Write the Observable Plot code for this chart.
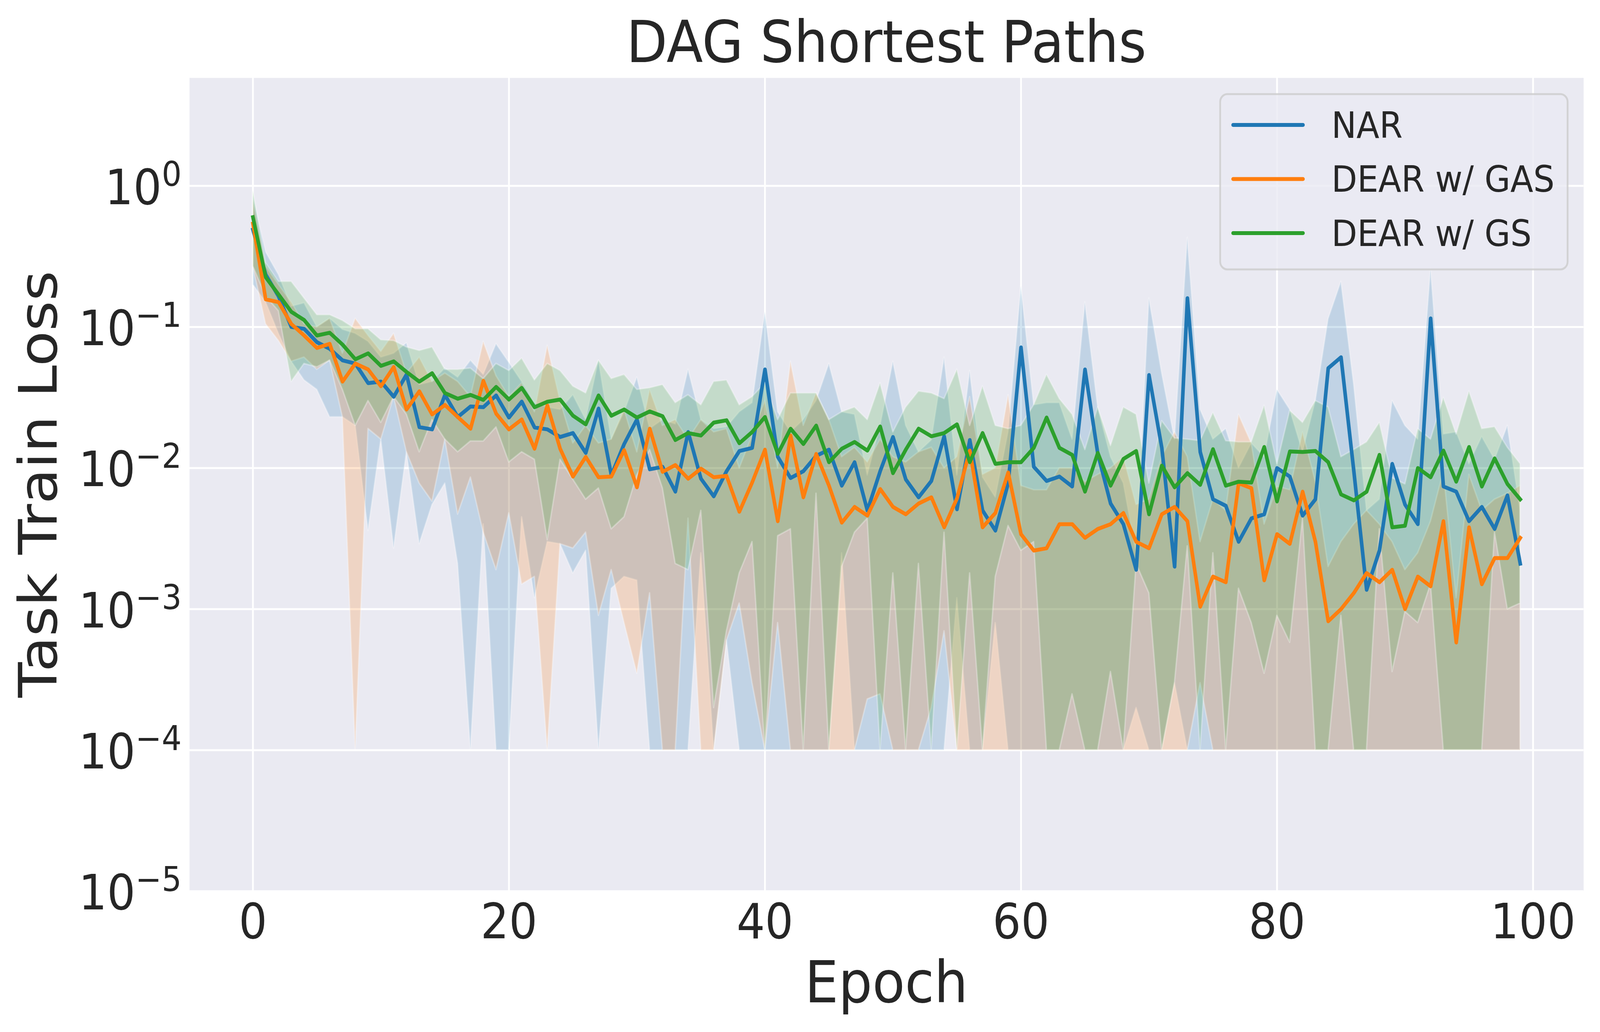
<!DOCTYPE html>
<html><head><meta charset="utf-8">
<script src="https://cdn.jsdelivr.net/npm/d3@7"></script>
<script src="https://cdn.jsdelivr.net/npm/@observablehq/plot@0.6"></script>
<style>html,body{margin:0;padding:0;background:#fff;overflow:hidden;} svg{display:block}</style>
</head><body>
<script>
const epochs = [0,1,2,3,4,5,6,7,8,9,10,11,12,13,14,15,16,17,18,19,20,21,22,23,24,25,26,27,28,29,30,31,32,33,34,35,36,37,38,39,40,41,42,43,44,45,46,47,48,49,50,51,52,53,54,55,56,57,58,59,60,61,62,63,64,65,66,67,68,69,70,71,72,73,74,75,76,77,78,79,80,81,82,83,84,85,86,87,88,89,90,91,92,93,94,95,96,97,98,99];

const narMean = [0.49,0.235,0.165,0.10,0.097,0.078,0.070,0.058,0.055,0.040,
 0.041,0.032,0.046,0.0195,0.0188,0.033,0.023,0.0273,0.027,0.0327,
 0.0228,0.0296,0.0194,0.0188,0.0166,0.0177,0.0128,0.0264,0.0089,0.0148,
 0.0221,0.0098,0.0102,0.0068,0.018,0.0084,0.0063,0.0095,0.0132,0.0139,
 0.050,0.012,0.0085,0.0095,0.0122,0.0135,0.0075,0.011,0.005,0.0095,
 0.0166,0.0083,0.0062,0.0081,0.0168,0.0051,0.0158,0.005,0.0036,0.0078,
 0.0716,0.0102,0.0081,0.0087,0.0074,0.050,0.0126,0.0056,0.004,0.0019,
 0.0456,0.0139,0.002,0.16,0.013,0.006,0.0054,0.003,0.0044,0.0047,
 0.010,0.0087,0.0046,0.006,0.051,0.061,0.0095,0.00137,0.0026,0.0107,
 0.0055,0.004,0.115,0.0074,0.0068,0.0042,0.0053,0.0037,0.0064,0.0021];
const narHi = [0.85,0.34,0.235,0.14,0.148,0.10,0.115,0.096,0.09,0.079,
 0.061,0.065,0.077,0.039,0.041,0.051,0.044,0.058,0.046,0.076,
 0.056,0.041,0.029,0.027,0.026,0.033,0.022,0.058,0.016,0.025,
 0.044,0.019,0.022,0.0205,0.05,0.022,0.019,0.0195,0.025,0.029,
 0.128,0.025,0.018,0.022,0.03,0.055,0.025,0.024,0.0089,0.02,
 0.057,0.02,0.013,0.0158,0.061,0.0089,0.049,0.0086,0.0062,0.018,
 0.195,0.028,0.029,0.029,0.016,0.15,0.027,0.012,0.0078,0.0025,
 0.16,0.047,0.016,0.43,0.026,0.016,0.019,0.01,0.015,0.012,
 0.036,0.026,0.013,0.03,0.114,0.21,0.039,0.005,0.006,0.03,
 0.02,0.016,0.26,0.0174,0.018,0.0107,0.0167,0.0115,0.02,0.005];
const narLo = [0.20,0.15,0.09,0.057,0.042,0.036,0.023,0.023,0.020,0.0036,
 0.016,0.0027,0.013,0.0029,0.0055,0.0078,0.0021,0.0001,0.004,0.0001,
 0.0001,0.0045,0.0012,0.003,0.0029,0.0018,0.0026,0.0001,0.0014,0.0017,
 0.0016,0.0001,0.0001,0.0001,0.0001,0.0025,0.0001,0.0006,0.0001,0.0001,
 0.0001,0.0001,0.0001,0.0001,0.0001,0.0001,0.0025,0.0001,0.0001,0.0001,
 0.0001,0.0001,0.0001,0.0001,0.0001,0.0012,0.0001,0.0001,0.0008,0.0001,
 0.0001,0.0001,0.0001,0.0001,0.0001,0.0001,0.0001,0.0001,0.0001,0.0002,
 0.0001,0.0001,0.0003,0.0001,0.0001,0.0001,0.0001,0.0001,0.0001,0.0001,
 0.0001,0.0001,0.0001,0.0001,0.0001,0.0001,0.0001,0.0001,0.0001,0.0001,
 0.0001,0.0001,0.0001,0.0001,0.0001,0.0001,0.0001,0.0001,0.0001,0.0001];

const gasMean = [0.54,0.157,0.15,0.105,0.087,0.071,0.076,0.041,0.055,0.050,
 0.038,0.052,0.026,0.035,0.024,0.028,0.023,0.019,0.0415,0.0243,
 0.0188,0.0221,0.0137,0.0278,0.0137,0.0087,0.012,0.0086,0.0087,0.0134,
 0.0073,0.019,0.0094,0.0105,0.0084,0.0099,0.0086,0.0088,0.0049,0.0079,
 0.0135,0.0042,0.017,0.0062,0.0126,0.0075,0.0041,0.0053,0.0046,0.0071,
 0.0053,0.0047,0.0056,0.0062,0.0038,0.0061,0.0133,0.0038,0.0048,0.0093,
 0.0034,0.0026,0.0027,0.004,0.004,0.0032,0.0037,0.004,0.0048,0.003,
 0.0027,0.0047,0.0053,0.0042,0.00104,0.0017,0.00155,0.0078,0.0072,0.0016,
 0.0034,0.0029,0.0068,0.003,0.00082,0.001,0.0013,0.0018,0.00155,0.0019,
 0.001,0.0017,0.00145,0.0042,0.00058,0.0038,0.0015,0.0023,0.0023,0.0032];
const gasHi = [0.8,0.27,0.2,0.15,0.105,0.1,0.115,0.065,0.115,0.087,
 0.067,0.09,0.047,0.061,0.041,0.047,0.041,0.032,0.079,0.045,
 0.032,0.04,0.025,0.074,0.03,0.015,0.02,0.015,0.016,0.026,
 0.013,0.036,0.02,0.022,0.016,0.022,0.018,0.019,0.01,0.017,
 0.03,0.01,0.057,0.02,0.034,0.022,0.012,0.014,0.011,0.016,
 0.012,0.011,0.013,0.014,0.01,0.012,0.032,0.009,0.01,0.033,
 0.0075,0.007,0.007,0.01,0.01,0.008,0.009,0.01,0.012,0.0055,
 0.006,0.012,0.018,0.012,0.003,0.006,0.005,0.024,0.015,0.004,
 0.0074,0.007,0.018,0.008,0.002,0.003,0.004,0.005,0.004,0.003,
 0.0019,0.0025,0.0042,0.0095,0.0012,0.009,0.005,0.006,0.0066,0.0075];
const gasLo = [0.27,0.105,0.08,0.057,0.061,0.05,0.058,0.023,0.0001,0.019,
 0.016,0.032,0.013,0.0078,0.0058,0.016,0.0047,0.0086,0.0035,0.0019,
 0.0048,0.0015,0.0017,0.0001,0.0029,0.0027,0.0035,0.0009,0.0019,0.0008,
 0.00035,0.0013,0.0001,0.0001,0.0044,0.0001,0.0001,0.0006,0.0011,0.0003,
 0.0001,0.0008,0.0001,0.0001,0.0001,0.0001,0.0001,0.0001,0.00023,0.00025,
 0.0001,0.0001,0.0001,0.0002,0.0007,0.0001,0.0001,0.0001,0.0001,0.0001,
 0.0001,0.0001,0.0001,0.0001,0.0001,0.0001,0.0001,0.0001,0.0001,0.0001,
 0.0001,0.0001,0.0001,0.0001,0.0003,0.0001,0.0001,0.0001,0.0001,0.0001,
 0.0001,0.0001,0.0001,0.0001,0.0001,0.0001,0.0001,0.0001,0.0001,0.0001,
 0.0001,0.0001,0.0001,0.0001,0.0001,0.0001,0.0001,0.0001,0.0001,0.0001];

const gsMean = [0.60,0.225,0.17,0.128,0.112,0.087,0.091,0.075,0.059,0.065,
 0.053,0.057,0.048,0.041,0.047,0.034,0.031,0.033,0.0304,0.0376,
 0.0306,0.037,0.027,0.0295,0.0306,0.0235,0.0204,0.0327,0.0235,0.026,
 0.0228,0.0252,0.0233,0.0158,0.0177,0.017,0.021,0.0218,0.015,0.018,
 0.023,0.0126,0.019,0.0148,0.020,0.011,0.0137,0.0153,0.0133,0.0197,
 0.0092,0.0135,0.019,0.0168,0.0177,0.0204,0.011,0.0177,0.0107,0.011,
 0.011,0.0139,0.0228,0.0139,0.0124,0.0068,0.0128,0.0075,0.0116,0.0132,
 0.0047,0.0104,0.0073,0.0092,0.0076,0.0136,0.0075,0.008,0.0079,0.0141,
 0.0058,0.0131,0.013,0.0132,0.011,0.0065,0.0059,0.0068,0.0124,0.0038,
 0.0039,0.01,0.0086,0.0133,0.008,0.0141,0.0074,0.0117,0.0077,0.006];
const gsHi = [0.93,0.285,0.21,0.21,0.16,0.122,0.122,0.111,0.097,0.097,
 0.081,0.08,0.072,0.068,0.072,0.050,0.050,0.051,0.043,0.055,
 0.049,0.06,0.042,0.055,0.049,0.038,0.034,0.058,0.043,0.046,
 0.036,0.037,0.039,0.029,0.033,0.028,0.041,0.042,0.028,0.032,
 0.04,0.022,0.034,0.034,0.034,0.022,0.025,0.027,0.022,0.040,
 0.018,0.027,0.035,0.034,0.031,0.050,0.02,0.038,0.02,0.019,
 0.02,0.028,0.046,0.031,0.024,0.0135,0.027,0.0144,0.027,0.024,
 0.0078,0.0216,0.0163,0.016,0.0156,0.0247,0.0156,0.0153,0.0153,0.0278,
 0.0107,0.0256,0.021,0.03,0.027,0.012,0.0135,0.0153,0.021,0.0085,
 0.0077,0.019,0.016,0.0316,0.0174,0.035,0.019,0.0196,0.014,0.0107];
const gsLo = [0.27,0.165,0.13,0.041,0.055,0.052,0.058,0.036,0.020,0.030,
 0.021,0.032,0.024,0.013,0.022,0.016,0.013,0.0155,0.0155,0.0195,
 0.011,0.013,0.0115,0.0031,0.0115,0.0083,0.006,0.0072,0.0037,0.0045,
 0.0089,0.0135,0.0072,0.0021,0.0019,0.005,0.0002,0.0007,0.0018,0.003,
 0.0001,0.0033,0.0037,0.0001,0.0066,0.0001,0.002,0.0035,0.0044,0.0001,
 0.0018,0.0001,0.0021,0.0001,0.0035,0.0001,0.0018,0.0001,0.0017,0.0039,
 0.0026,0.003,0.0001,0.0001,0.00025,0.0001,0.0001,0.00036,0.0001,0.0021,
 0.0013,0.0001,0.0003,0.0028,0.0001,0.0025,0.0001,0.0014,0.0008,0.00035,
 0.0009,0.00058,0.0044,0.0001,0.0001,0.0009,0.0001,0.0001,0.0037,0.00036,
 0.00096,0.0008,0.0015,0.0001,0.0001,0.0001,0.0001,0.0035,0.001,0.0011];

const seriesNames = ["NAR", "DEAR w/ GAS", "DEAR w/ GS"];
const seriesColors = ["#1f77b4", "#ff7f0e", "#2ca02c"];
const xTicks = [0, 20, 40, 60, 80, 100];
const yTicks = [1e-5, 1e-4, 1e-3, 1e-2, 1e-1, 1];

const series = [
  {name: seriesNames[0], color: seriesColors[0], mean: narMean, lo: narLo, hi: narHi},
  {name: seriesNames[1], color: seriesColors[1], mean: gasMean, lo: gasLo, hi: gasHi},
  {name: seriesNames[2], color: seriesColors[2], mean: gsMean, lo: gsLo, hi: gsHi}
];
const rows = s => epochs.map((e, i) => ({epoch: e, mean: s.mean[i], lo: s.lo[i], hi: s.hi[i]}));
const fmtExp = v => { const e = Math.round(Math.log10(v)); return "10^" + (e < 0 ? "\u2212" + (-e) : String(e)); };

const W = 4444, H = 2643;
const TXT = "#262626";
const chart = Plot.plot({
  width: W, height: H,
  marginLeft: 526, marginRight: 46, marginTop: 199, marginBottom: 361,
  style: {fontFamily: "DejaVu Sans", color: TXT, background: "white"},
  x: {domain: [-4.95, 103.95]},
  y: {type: "log", domain: [1e-5, 5.83]},
  marks: [
    Plot.frame({fill: "#eaeaf2", stroke: "none"}),
    Plot.gridX(xTicks, {stroke: "white", strokeOpacity: 1, strokeWidth: 5}),
    Plot.gridY(yTicks, {stroke: "white", strokeOpacity: 1, strokeWidth: 5}),
    ...series.map(s => Plot.areaY(rows(s), {x: "epoch", y1: "lo", y2: "hi", fill: s.color, fillOpacity: 0.2, stroke: "white", strokeOpacity: 0.3, strokeWidth: 4})),
    ...series.map(s => Plot.lineY(rows(s), {x: "epoch", y: "mean", stroke: s.color, strokeWidth: 10, strokeLinejoin: "round", strokeLinecap: "square"})),
    Plot.axisX(xTicks, {tickSize: 0, tickPadding: 32, fontSize: 124, label: null}),
    Plot.axisY(yTicks, {tickSize: 0, tickPadding: 22, fontSize: 124, label: null, tickFormat: fmtExp})
  ]
});
document.body.appendChild(chart);

const svg = d3.select(chart);
// fill the browser viewport with the figure
svg.attr("viewBox", `0 0 ${W} ${H}`).attr("preserveAspectRatio", "none")
  .style("max-width", "none").style("width", window.innerWidth + "px").style("height", window.innerHeight + "px");

// superscript exponents on the y tick labels
svg.selectAll('g[aria-label="y-axis tick label"] text').each(function () {
  const t = d3.select(this);
  const parts = t.text().split("^");
  if (parts.length !== 2) return;
  t.text(null);
  t.append("tspan").text(parts[0]);
  t.append("tspan").attr("dy", -47).attr("font-size", 87).text(parts[1]);
  const tr = t.attr("transform") || "";
  t.attr("transform", (tr + " translate(0,7)").trim());
});

const cx = (526 + 4398) / 2;
svg.append("text").attr("x", cx).attr("y", 159).attr("text-anchor", "middle")
  .attr("font-size", 148).attr("fill", TXT).text("DAG Shortest Paths");
svg.append("text").attr("x", cx).attr("y", 2567).attr("text-anchor", "middle")
  .attr("font-size", 148).attr("fill", TXT).text("Epoch");
svg.append("text").attr("transform", "translate(157,1240) rotate(-90)").attr("text-anchor", "middle")
  .attr("font-size", 148).attr("fill", TXT).text("Task Train Loss");

const lg = svg.append("g");
lg.append("rect").attr("x", 3389).attr("y", 241).attr("width", 965).attr("height", 449).attr("rx", 20)
  .attr("fill", "#eaeaf2").attr("fill-opacity", 0.8).attr("stroke", "#cccccc").attr("stroke-opacity", 0.8).attr("stroke-width", 5);
series.forEach((s, i) => {
  const y = 320 + i * 138.5;
  lg.append("line").attr("x1", 3425).attr("x2", 3619).attr("y1", y).attr("y2", y)
    .attr("stroke", s.color).attr("stroke-width", 10).attr("stroke-linecap", "round");
  lg.append("text").attr("x", 3698).attr("y", y + 33).attr("text-anchor", "start")
    .attr("font-size", 93).attr("fill", TXT).text(s.name);
});
</script>
</body></html>
